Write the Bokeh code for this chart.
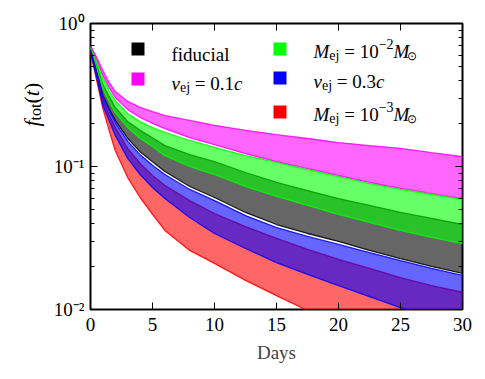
import math
from bokeh.plotting import figure
from bokeh.layouts import row
from bokeh.models import (Range1d, FixedTicker, LinearAxis, LogAxis,
                          Label, BoxAnnotation, CustomJSTickFormatter)
from bokeh.embed import file_html
from bokeh.resources import INLINE

# ---------------- data ----------------
days = [0, 0.5, 1, 1.5, 2, 3, 4, 5, 6, 8, 10, 12.5, 15, 17.5, 20, 22.5, 25, 27.5, 30]

fiducial_hi = [0.679, 0.508, 0.374, 0.309, 0.259, 0.206, 0.179, 0.159, 0.140, 0.121, 0.108, 0.0908, 0.0773, 0.0679, 0.0597, 0.0534, 0.0477, 0.0433, 0.0393]
fiducial_lo = [0.658, 0.462, 0.314, 0.254, 0.210, 0.157, 0.127, 0.108, 0.0923, 0.0725, 0.0607, 0.0477, 0.0393, 0.0340, 0.0299, 0.0259, 0.0227, 0.0200, 0.0179]

v01_hi = [0.702, 0.578, 0.469, 0.387, 0.334, 0.285, 0.259, 0.242, 0.227, 0.210, 0.194, 0.179, 0.167, 0.157, 0.147, 0.140, 0.134, 0.125, 0.117]
v01_lo = [0.691, 0.551, 0.433, 0.357, 0.304, 0.250, 0.220, 0.200, 0.184, 0.159, 0.142, 0.123, 0.108, 0.0968, 0.0865, 0.0773, 0.0702, 0.0647, 0.0597]

m2_hi = [0.679, 0.534, 0.413, 0.340, 0.289, 0.235, 0.206, 0.187, 0.173, 0.152, 0.136, 0.119, 0.107, 0.0952, 0.0851, 0.0760, 0.0691, 0.0637, 0.0588]
m2_lo = [0.668, 0.492, 0.351, 0.285, 0.238, 0.187, 0.157, 0.138, 0.119, 0.100, 0.0879, 0.0725, 0.0617, 0.0534, 0.0462, 0.0406, 0.0357, 0.0319, 0.0289]

v03_hi = [0.658, 0.454, 0.304, 0.246, 0.203, 0.150, 0.121, 0.102, 0.0879, 0.0691, 0.0578, 0.0454, 0.0374, 0.0324, 0.0285, 0.0250, 0.0220, 0.0194, 0.0173]
v03_lo = [0.637, 0.419, 0.267, 0.210, 0.165, 0.114, 0.0879, 0.0713, 0.0597, 0.0440, 0.0340, 0.0267, 0.0213, 0.0176, 0.0147, 0.0123, 0.0103, 0.00894, 0.00773]

m3_hi = [0.647, 0.440, 0.289, 0.231, 0.187, 0.134, 0.105, 0.0865, 0.0736, 0.0578, 0.0469, 0.0380, 0.0314, 0.0263, 0.0224, 0.0194, 0.0167, 0.0147, 0.0132]
m3_lo = [0.627, 0.399, 0.254, 0.179, 0.129, 0.0837, 0.0607, 0.0462, 0.0357, 0.0259, 0.0210, 0.0160, 0.0125, 0.00984, 0.00811, 0.00679, 0.00578, 0.00500, 0.00440]

x_ticks = [0, 5, 10, 15, 20, 25, 30]
y_ticks = [0.01, 0.1, 1]
y_tick_labels = ["10\u207b\u00b2", "10\u207b\u00b9", "10\u2070"]
x_label = "Days"

# ---------------- figures ----------------
FONT = "Liberation Serif"
FS = 19
LW = 50      # width of the strip that carries the y-axis label
H = 375

p = figure(width=480 - LW, height=H, x_range=Range1d(0, 30), y_range=Range1d(0.01, 1),
           y_axis_type="log", output_backend="svg", toolbar_location=None,
           min_border_left=89 - LW, min_border_right=18, min_border_top=23, min_border_bottom=66)
p.xgrid.visible = False
p.ygrid.visible = False
p.outline_line_color = "black"
p.outline_line_width = 2
p.background_fill_color = "white"
p.border_fill_color = "white"

ylab = figure(width=LW, height=H, x_range=Range1d(0, 1), y_range=Range1d(0, 1),
              output_backend="svg", toolbar_location=None,
              x_axis_location=None, y_axis_location=None,
              min_border_left=0, min_border_right=0, min_border_top=0, min_border_bottom=0)
ylab.xgrid.visible = False
ylab.ygrid.visible = False
ylab.outline_line_color = None
ylab.border_fill_color = "white"
ylab.background_fill_color = "white"

bands = [
    (fiducial_hi, fiducial_lo, "#000000"),
    (v01_hi, v01_lo, "#ff00ff"),
    (m2_hi, m2_lo, "#00ff00"),
    (m3_hi, m3_lo, "#ff0000"),
    (v03_hi, v03_lo, "#0000ff"),
]
for hi, lo, col in bands:
    p.varea(x=days, y1=lo, y2=hi, fill_color=col, fill_alpha=0.6)
    p.line(days, hi, line_color=col, line_width=1.3, line_alpha=0.85)
    p.line(days, lo, line_color=col, line_width=1.3, line_alpha=0.85)

y_minor = [m * y_ticks[i] for i in range(len(y_ticks) - 1) for m in range(2, 10)]

def style_axis(ax):
    ax.axis_line_color = None
    ax.major_tick_in = 7
    ax.major_tick_out = 0
    ax.minor_tick_in = 4
    ax.minor_tick_out = 0
    ax.major_tick_line_color = "black"
    ax.minor_tick_line_color = "black"
    ax.major_tick_line_width = 1
    ax.minor_tick_line_width = 1
    ax.major_label_text_font = FONT
    ax.major_label_text_font_size = f"{FS}px"
    ax.major_label_text_color = "black"

xb = p.xaxis[0]
xb.ticker = FixedTicker(ticks=x_ticks, minor_ticks=[])
style_axis(xb)
xb.major_label_standoff = 8
xb.axis_label = x_label
xb.axis_label_text_font = FONT
xb.axis_label_text_font_size = f"{FS}px"
xb.axis_label_text_font_style = "normal"
xb.axis_label_standoff = 8

yl = p.yaxis[0]
yl.ticker = FixedTicker(ticks=y_ticks, minor_ticks=y_minor)
style_axis(yl)
yl.major_label_standoff = 6
yl.major_label_overrides = {t: s for t, s in zip(y_ticks, y_tick_labels)}

blank = CustomJSTickFormatter(code="return ''")
top = LinearAxis(ticker=FixedTicker(ticks=x_ticks, minor_ticks=[]), formatter=blank)
style_axis(top)
top.major_label_text_font_size = "0px"
top.major_label_standoff = 0
p.add_layout(top, "above")

right = LogAxis(ticker=FixedTicker(ticks=y_ticks, minor_ticks=y_minor), formatter=blank)
style_axis(right)
right.major_label_text_font_size = "0px"
right.major_label_standoff = 0
p.add_layout(right, "right")

# ---------------- rich text helper (Times metrics) ----------------
REG = {' ': 250, '(': 333, ')': 333, '.': 250, '=': 564, '\u2212': 564,
       'a': 444, 'c': 444, 'd': 500, 'e': 444, 'f': 333, 'i': 278, 'j': 278,
       'l': 278, 'o': 500, 't': 278, 'u': 500}
ITA = {'v': 444, 'M': 833, 'f': 278, 't': 278, 'c': 444}

def width(s, size, italic):
    tab = ITA if italic else REG
    return sum(tab.get(ch, REG.get(ch, 500)) for ch in s) * size / 1000.0

def rich(fig, pieces, sx, sy, angle=0.0):
    """Lay out text pieces one after another; each piece is centred on its own slot."""
    x = 0.0
    for text, size, italic, dy in pieces:
        lead = len(text) - len(text.lstrip(" "))
        x += width(" " * lead, size, italic)
        body = text.strip(" ")
        w = width(body, size, italic)
        c = x + w / 2.0
        if angle == 0:
            lx, ly = sx + c, sy + dy
        else:
            lx, ly = sx - dy, sy + c
        fig.add_layout(Label(x=lx, y=ly, x_units="screen", y_units="screen", text=body,
                             angle=angle, text_font=FONT, text_font_size=f"{size}px",
                             text_font_style="italic" if italic else "normal",
                             text_baseline="alphabetic", text_align="center", text_color="black"))
        x += width(text.lstrip(" "), size, italic)

# main frame origin on the page: left 89, bottom 309 (screen y grows upward)
FL, FB = 89, 309
def sx(px): return px - FL
def sy(py): return FB - py

SUB = 14
# y-axis label f_tot(t), rotated, in the left strip (its frame = whole strip)
rich(ylab, [("f", 22, True, 0), ("tot", 16, False, -4), ("(", 22, False, 0),
            ("t", 22, True, 0), (")", 22, False, 0)], 31, H - 192, angle=math.pi / 2)

legend_sq = [(130, 42, "#000000"), (130, 72, "#ff00ff"), (272, 42, "#00ff00"),
             (272, 71, "#0000ff"), (272, 105, "#ff0000")]
for lx, ty, col in legend_sq:
    p.add_layout(BoxAnnotation(left=sx(lx), right=sx(lx + 13), top=sy(ty), bottom=sy(ty + 13),
                               left_units="screen", right_units="screen",
                               top_units="screen", bottom_units="screen",
                               fill_color=col, fill_alpha=1.0, line_color=col, line_alpha=1.0,
                               line_width=0))

rich(p, [("fiducial", FS, False, 0)], sx(170), sy(54))
rich(p, [("v", FS, True, 0), ("ej", SUB, False, -4), (" = 0.1", FS, False, 0), ("c", FS, True, 0)],
     sx(170), sy(83))
rich(p, [("M", FS, True, 0), ("ej", SUB, False, -4), (" = 10", FS, False, 0), ("\u22122", SUB, False, 8),
         ("M", FS, True, 0), ("\u2299", 12, False, -4)], sx(312), sy(51))
rich(p, [("v", FS, True, 0), ("ej", SUB, False, -4), (" = 0.3", FS, False, 0), ("c", FS, True, 0)],
     sx(312), sy(81))
rich(p, [("M", FS, True, 0), ("ej", SUB, False, -4), (" = 10", FS, False, 0), ("\u22123", SUB, False, 8),
         ("M", FS, True, 0), ("\u2299", 12, False, -4)], sx(312), sy(114))

layout = row(ylab, p)
open("out.html", "w").write(file_html(layout, INLINE))
